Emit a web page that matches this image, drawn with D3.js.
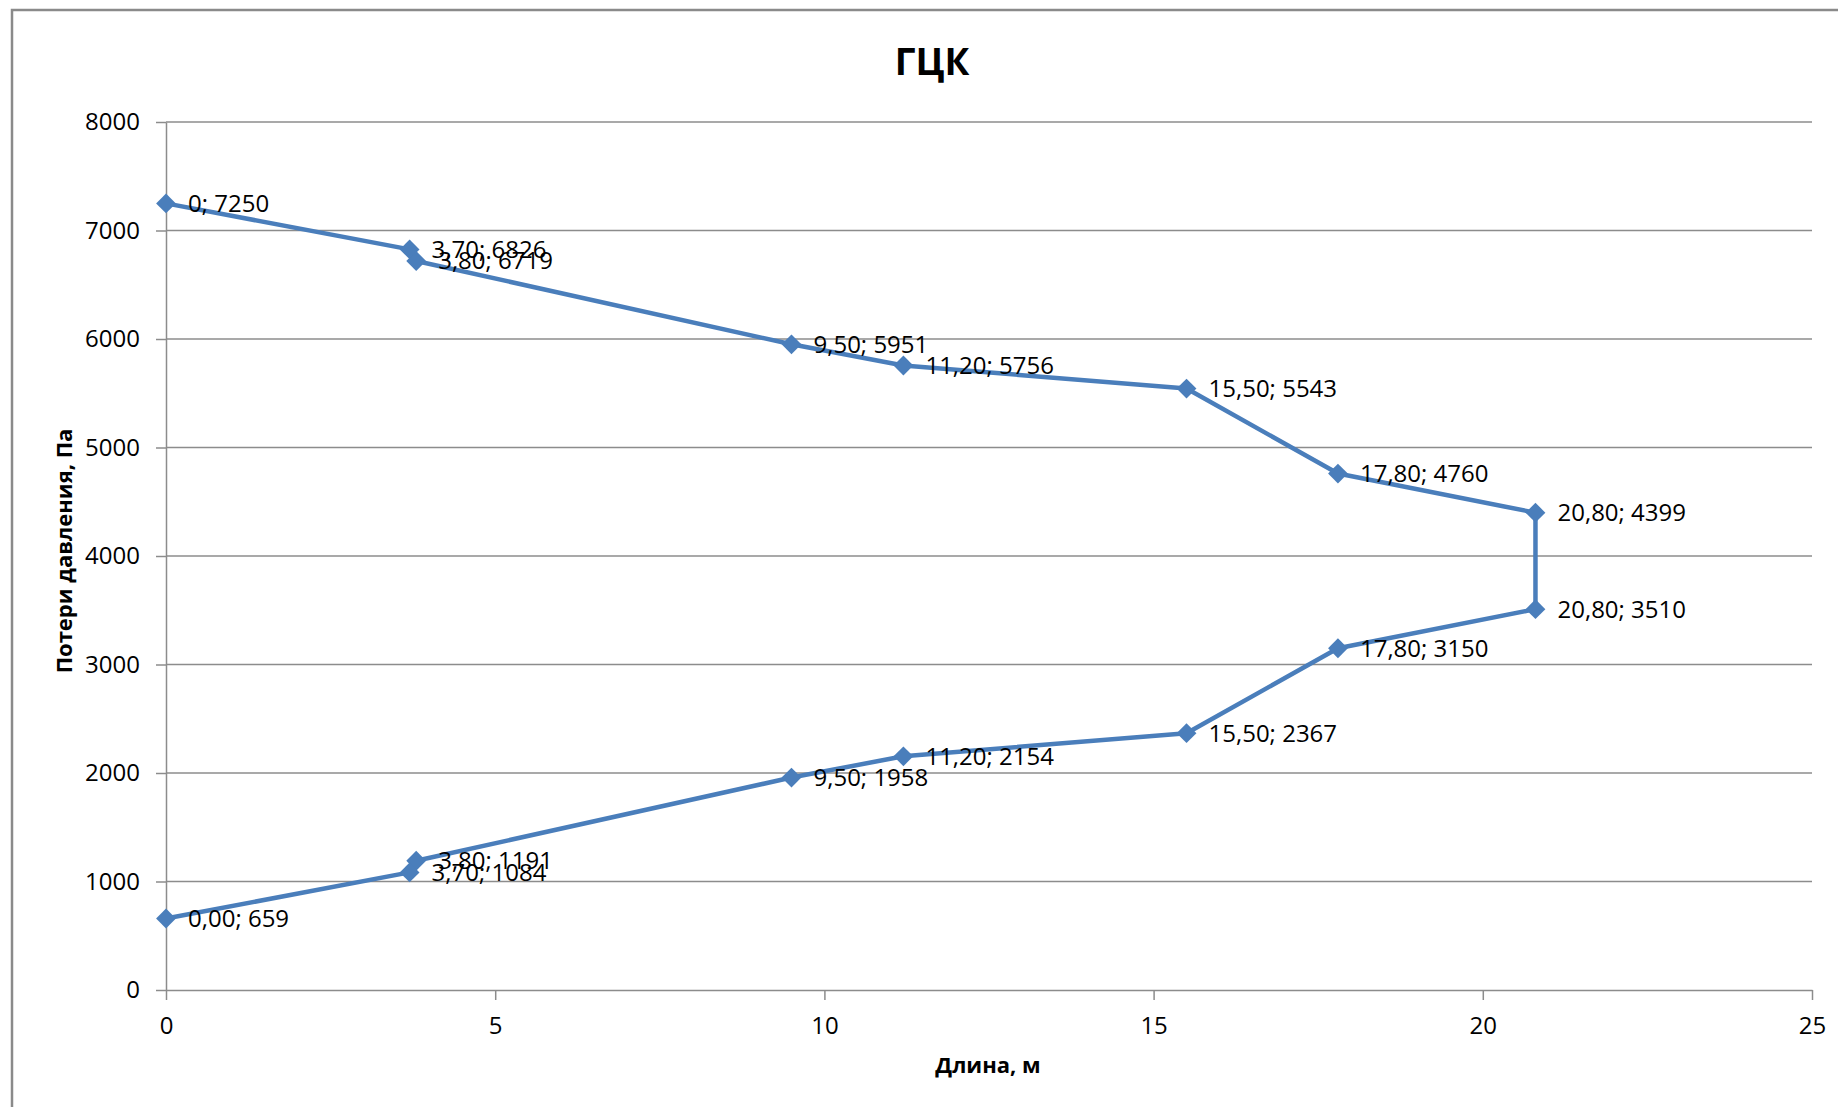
<!DOCTYPE html>
<html>
<head>
<meta charset="utf-8">
<script src="https://cdn.jsdelivr.net/npm/d3@7"></script>
<style>
  html, body { margin: 0; padding: 0; background: #ffffff; }
  svg { display: block; }
  text { font-family: "Open Sans", "Noto Sans", sans-serif; fill: #000; }
</style>
</head>
<body>
<svg id="chart" width="1838" height="1107"></svg>
<script>
// Pressure-loss profile along the pipeline (length in m, loss in Pa)
const lengths = [0, 3.70, 3.80, 9.50, 11.20, 15.50, 17.80, 20.80,
                 20.80, 17.80, 15.50, 11.20, 9.50, 3.80, 3.70, 0.00];
const losses  = [7250, 6826, 6719, 5951, 5756, 5543, 4760, 4399,
                 3510, 3150, 2367, 2154, 1958, 1191, 1084, 659];
// decimals shown for the length part of each point label
const lengthDecimals = [0, 2, 2, 2, 2, 2, 2, 2, 2, 2, 2, 2, 2, 2, 2, 2];

const xTicks = [0, 5, 10, 15, 20, 25];
const yTicks = [0, 1000, 2000, 3000, 4000, 5000, 6000, 7000, 8000];

const chartTitle = "ГЦК";
const xTitle = "Длина, м";
const yTitle = "Потери давления, Па";

const points = lengths.map((x, i) => ({ x, y: losses[i], dec: lengthDecimals[i] }));

const svg = d3.select("#chart");
const plot = { left: 166, right: 1812, top: 122, bottom: 990 };
const blue = "#4a7ebb";
const grey = "#8c8c8c";

// outer chart frame
svg.append("rect")
  .attr("x", 12).attr("y", 10)
  .attr("width", 1900).attr("height", 1200)
  .attr("fill", "#fff")
  .attr("stroke", "#8a8a8a").attr("stroke-width", 2.5);

const x = d3.scaleLinear().domain([0, 25]).range([plot.left, plot.right]);
const y = d3.scaleLinear().domain([0, 8000]).range([plot.bottom, plot.top]);

// horizontal gridlines
svg.append("g").selectAll("line")
  .data(yTicks.filter(v => v > 0))
  .join("line")
  .attr("x1", plot.left).attr("x2", plot.right)
  .attr("y1", d => y(d)).attr("y2", d => y(d))
  .attr("stroke", grey).attr("stroke-width", 1.5);

// y axis
const yAxis = svg.append("g")
  .attr("transform", `translate(${plot.left},0)`)
  .call(d3.axisLeft(y).tickValues(yTicks).tickFormat(d3.format("d"))
    .tickSize(10).tickSizeOuter(0).tickPadding(16));
yAxis.selectAll("text").style("font-size", "24px").attr("fill", "#000");

// x axis
const xAxis = svg.append("g")
  .attr("transform", `translate(0,${plot.bottom})`)
  .call(d3.axisBottom(x).tickValues(xTicks).tickFormat(d3.format("d"))
    .tickSize(10).tickSizeOuter(0).tickPadding(17));
xAxis.selectAll("text").style("font-size", "24px").attr("fill", "#000");

[yAxis, xAxis].forEach(g => {
  g.selectAll("path, line").attr("stroke", grey).attr("stroke-width", 1.5);
  g.select(".domain").attr("stroke", grey);
});

// series line
const line = d3.line().x(d => x(d.x)).y(d => y(d.y));
svg.append("path")
  .datum(points)
  .attr("d", line)
  .attr("fill", "none")
  .attr("stroke", blue)
  .attr("stroke-width", 4.5)
  .attr("stroke-linejoin", "round");

// diamond markers
const diamond = d3.symbol().type(d3.symbolDiamond2).size(250);
svg.append("g").selectAll("path")
  .data(points)
  .join("path")
  .attr("d", diamond)
  .attr("transform", d => `translate(${x(d.x)},${y(d.y)})`)
  .attr("fill", blue);

// point labels "length; loss"
const fmtLen = (v, dec) => v.toFixed(dec).replace(".", ",");
svg.append("g").selectAll("text")
  .data(points)
  .join("text")
  .attr("x", d => x(d.x) + 22)
  .attr("y", d => y(d.y))
  .attr("dy", "0.35em")
  .style("font-size", "24px")
  .text(d => `${fmtLen(d.x, d.dec)}; ${d.y}`);

// titles
svg.append("text")
  .attr("x", 932).attr("y", 62)
  .attr("text-anchor", "middle")
  .attr("dy", "0.35em")
  .style("font-size", "37px").style("font-weight", "bold")
  .text(chartTitle);

svg.append("text")
  .attr("x", 988).attr("y", 1065)
  .attr("text-anchor", "middle")
  .attr("dy", "0.35em")
  .style("font-size", "22px").style("font-weight", "bold")
  .text(xTitle);

svg.append("text")
  .attr("transform", "translate(64,551) rotate(-90)")
  .attr("text-anchor", "middle")
  .attr("dy", "0.35em")
  .style("font-size", "22px").style("font-weight", "bold")
  .text(yTitle);
</script>
</body>
</html>
